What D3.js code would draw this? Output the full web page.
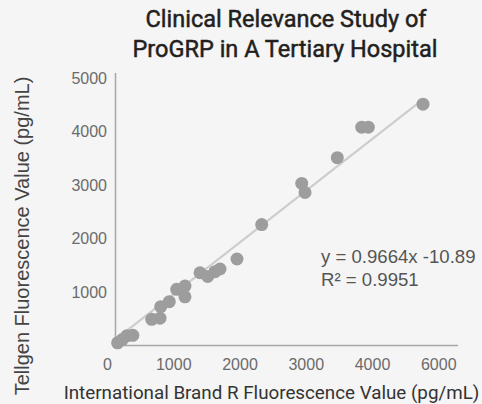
<html>

<head>
    <meta charset="utf-8">
    <title>ProGRP correlation</title>
    <style>
        body { margin: 0; background: #f5f5f5; }
        svg { display: block; }
    </style>
</head>

<body>
    <script src="https://cdn.jsdelivr.net/npm/d3@7/dist/d3.min.js"></script>
    <script>
        var width = 482;
        var height = 404;

        // Brand R (x) vs Tellgen (y), pg/mL
        var xValues = [160, 230, 300, 390, 675, 800, 811, 940, 1052, 1177, 1177, 1404, 1520, 1630, 1706, 1962, 2335, 2939, 2989, 3476, 3845, 3944, 4770];
        var yValues = [50, 110, 180, 190, 490, 510, 725, 820, 1050, 1110, 910, 1360, 1290, 1380, 1430, 1617, 2260, 3030, 2860, 3510, 4080, 4080, 4510];
        var xTickValues = [0, 1000, 2000, 3000, 4000, 5000];
        var xTickLabels = ["0", "1000", "2000", "3000", "4000", "6000"];
        var yTickValues = [1000, 2000, 3000, 4000, 5000];
        var slope = 0.9664;
        var intercept = -10.89;
        var rSquared = 0.9951;

        var svg = d3.select("body")
            .append("svg")
            .attr("width", width)
            .attr("height", height)
            .style("background", "#f5f5f5");

        var x = d3.scaleLinear().domain([0, 5000]).range([107, 438.25]);
        var y = d3.scaleLinear().domain([0, 5000]).range([345.5, 78]);

        // title
        var title = svg.append("text")
            .attr("text-anchor", "middle")
            .attr("font-family", "Roboto, 'Noto Sans', sans-serif")
            .attr("font-weight", 400)
            .attr("font-size", 23.5)
            .attr("fill", "#231f20")
            .attr("stroke", "#231f20")
            .attr("stroke-width", 0.5);
        title.append("tspan").attr("x", 286).attr("y", 27).text("Clinical Relevance Study of");
        title.append("tspan").attr("x", 285).attr("y", 57).text("ProGRP in A Tertiary Hospital");

        // axis lines
        svg.append("line")
            .attr("x1", 115.5).attr("x2", 115.5)
            .attr("y1", 73).attr("y2", 345.5)
            .attr("stroke", "#a8a8a8").attr("stroke-width", 1.5);
        svg.append("line")
            .attr("x1", 115).attr("x2", 458)
            .attr("y1", 345.5).attr("y2", 345.5)
            .attr("stroke", "#a8a8a8").attr("stroke-width", 1.5);

        // tick labels
        var xAxis = svg.append("g")
            .attr("transform", "translate(0,345.5)")
            .call(d3.axisBottom(x)
                .tickValues(xTickValues)
                .tickSize(0)
                .tickPadding(13)
                .tickFormat(function (d, i) {
                    return xTickLabels[i];
                }));
        var yAxis = svg.append("g")
            .attr("transform", "translate(115,0)")
            .call(d3.axisLeft(y)
                .tickValues(yTickValues)
                .tickSize(0)
                .tickPadding(8)
                .tickFormat(d3.format("d")));
        [xAxis, yAxis].forEach(function (g) {
            g.select(".domain").remove();
            g.selectAll("text")
                .attr("font-family", "'Liberation Sans', Arial, sans-serif")
                .attr("font-size", 16)
                .attr("fill", "#6b6b6b");
        });

        // trendline
        var xExt = d3.extent(xValues);
        svg.append("line")
            .attr("x1", x(xExt[0])).attr("y1", y(slope * xExt[0] + intercept))
            .attr("x2", x(xExt[1])).attr("y2", y(slope * xExt[1] + intercept))
            .attr("stroke", "#cdcdcd")
            .attr("stroke-width", 2.2);

        // points
        svg.selectAll("circle")
            .data(xValues)
            .enter()
            .append("circle")
            .attr("cx", function (d) { return x(d); })
            .attr("cy", function (d, i) { return y(yValues[i]); })
            .attr("r", 6.5)
            .attr("fill", "#9d9d9d");

        // equation
        var eq = svg.append("g")
            .attr("font-family", "'Liberation Sans', Arial, sans-serif")
            .attr("font-size", 18.6)
            .attr("fill", "#555");
        eq.append("text").attr("x", 321).attr("y", 263)
            .text("y = " + slope + "x " + intercept);
        eq.append("text").attr("x", 321).attr("y", 286)
            .text("R² = " + rSquared);

        // axis titles
        svg.append("text")
            .attr("x", 271.5)
            .attr("y", 399)
            .attr("text-anchor", "middle")
            .attr("font-family", "Roboto, 'Noto Sans', sans-serif")
            .attr("font-size", 18.8)
            .attr("fill", "#333")
            .text("International Brand R Fluorescence Value (pg/mL)");
        svg.append("text")
            .attr("transform", "translate(29,236) rotate(-90)")
            .attr("text-anchor", "middle")
            .attr("font-family", "'Liberation Sans', Arial, sans-serif")
            .attr("font-size", 20)
            .attr("fill", "#444")
            .text("Tellgen Fluorescence Value (pg/mL)");
    </script>
</body>

</html>
